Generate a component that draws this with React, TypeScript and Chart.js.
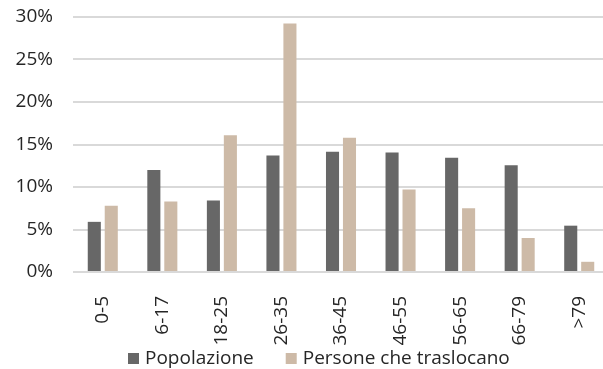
import React, { useEffect, useRef } from "react";
import { Chart, registerables } from "chart.js";

Chart.register(...registerables);

const categories = ["0-5", "6-17", "18-25", "26-35", "36-45", "46-55", "56-65", "66-79", ">79"];
const popolazione = [5.9, 12.0, 8.4, 13.7, 14.15, 14.05, 13.45, 12.55, 5.45];
const traslocano = [7.8, 8.3, 16.1, 29.25, 15.8, 9.7, 7.5, 4.0, 1.2];
const yTicks = [0, 5, 10, 15, 20, 25, 30];
const seriesNames = ["Popolazione", "Persone che traslocano"];
const seriesColors = ["#676767", "#cdbaa7"];

const FONT = "'Open Sans', sans-serif";

const legendPlugin = {
  id: "customLegend",
  afterDraw(chart: any) {
    const ctx = chart.ctx;
    ctx.save();
    ctx.font = `19px ${FONT}`;
    ctx.textBaseline = "middle";
    ctx.textAlign = "left";
    let x = 128;
    const yMid = 358.5;
    seriesNames.forEach((name, i) => {
      ctx.fillStyle = seriesColors[i];
      ctx.fillRect(x, yMid - 5.5, 11, 11);
      x += 17;
      ctx.fillStyle = "#262626";
      ctx.fillText(name, x, yMid);
      x += ctx.measureText(name).width + 32;
    });
    ctx.restore();
  },
};

export default function App() {
  const ref = useRef<HTMLCanvasElement>(null);
  useEffect(() => {
    document.body.style.margin = "0";
    const chart = new Chart(ref.current!, {
      type: "bar",
      data: {
        labels: categories,
        datasets: [
          {
            label: seriesNames[0],
            data: popolazione,
            backgroundColor: seriesColors[0],
            categoryPercentage: 0.57,
            barPercentage: 0.77,
          },
          {
            label: seriesNames[1],
            data: traslocano,
            backgroundColor: seriesColors[1],
            categoryPercentage: 0.57,
            barPercentage: 0.77,
          },
        ],
      },
      options: {
        animation: false,
        responsive: true,
        maintainAspectRatio: false,
        layout: { padding: { top: 17, left: 0, right: 0, bottom: 0 } },
        plugins: {
          tooltip: { enabled: false },
          legend: { display: false },
        },
        scales: {
          x: {
            grid: { display: false },
            border: { display: false },
            afterFit: (s: any) => {
              s.height = 97;
              s.paddingLeft = 0;
              s.paddingRight = 0;
            },
            ticks: {
              minRotation: 90,
              maxRotation: 90,
              padding: 16,
              color: "#262626",
              font: { family: FONT, size: 19 },
            },
          },
          y: {
            min: 0,
            max: 30,
            afterBuildTicks: (s: any) => {
              s.ticks = yTicks.map((v) => ({ value: v }));
            },
            afterFit: (s: any) => {
              s.width = 73;
              s.paddingTop = 0;
              s.paddingBottom = 0;
            },
            grid: { color: "#d9d9d9", lineWidth: 2, drawTicks: false },
            border: { display: false },
            ticks: {
              padding: 20,
              color: "#262626",
              font: { family: FONT, size: 19 },
              callback: (v: any) => v + "%",
            },
          },
        },
      },
      plugins: [legendPlugin],
    });
    return () => chart.destroy();
  }, []);
  return (
    <div style={{ position: "fixed", left: 0, top: 0, width: 603, height: 369, overflow: "hidden" }}>
      <div style={{ position: "relative", width: 609, height: 369 }}>
        <canvas ref={ref} />
      </div>
    </div>
  );
}
